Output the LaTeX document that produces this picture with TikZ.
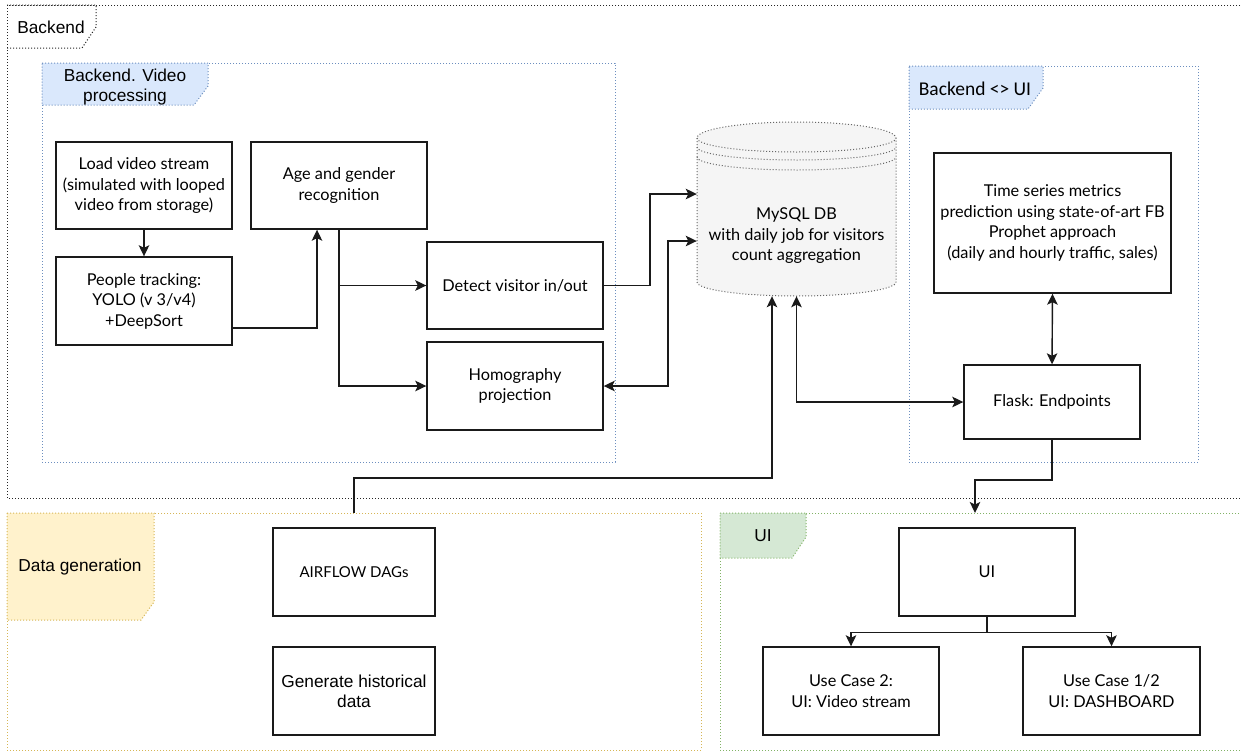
\documentclass[tikz,border=0pt]{standalone}
\usepackage{fontspec}
\setmainfont{Liberation Sans}
\newfontfamily\hum{Lato}
\newfontfamily\calfont{Carlito}
\usetikzlibrary{arrows.meta,calc}
\definecolor{blueS}{HTML}{6C8EBF}
\definecolor{blueF}{HTML}{DAE8FC}
\definecolor{yelS}{HTML}{D6B656}
\definecolor{yelF}{HTML}{FFF2CC}
\definecolor{grnS}{HTML}{82B366}
\definecolor{grnF}{HTML}{D5E8D4}
\definecolor{lineC}{HTML}{1A1A1A}
\definecolor{dbS}{HTML}{666666}
\definecolor{dbF}{HTML}{F5F5F5}
\begin{document}
\begin{tikzpicture}[x=1pt,y=-1pt,
  nbox/.style={draw=lineC, line width=1.4pt, fill=white, align=center, inner sep=2pt,
    font=\hum\fontsize{16.3}{20.5}\selectfont},
  hnbox/.style={nbox, font=\fontsize{17.3}{20}\selectfont},
  tip/.style={},
  arr/.style={draw=lineC, line width=1.4pt, -{Stealth[length=11pt,width=10.5pt,inset=2.5pt]}},
  darr/.style={draw=lineC, line width=1.4pt, {Stealth[length=11pt,width=10.5pt,inset=2.5pt]}-{Stealth[length=11pt,width=10.5pt,inset=2.5pt]}},
  cframe/.style={dotted, line width=1pt},
  lbl/.style={align=center, font=\fontsize{17.3}{20}\selectfont, inner sep=0pt},
]
\useasboundingbox (0,0) rectangle (1241,753);
\fill[white] (0,0) rectangle (1241,753);

% ---------- containers ----------
\draw[cframe, draw=black!85] (7,5) rectangle (1260,498);
\draw[cframe, draw=black!85] (7,5) -- (96,5) -- (96,27) -- (82,48) -- (7,48);
\node[lbl] (lblBackend) at (51,27) {Backend};

\draw[cframe, draw=blueS] (42,63) rectangle (615,462);
\filldraw[cframe, draw=blueS, fill=blueF] (42,63) -- (208,63) -- (208,86) -- (194,105) -- (42,105) -- cycle;
\node[lbl] (lblVideo) at (125,87) {Backend. Video\\processing};

\draw[cframe, draw=blueS] (909,66) rectangle (1198,462);
\filldraw[cframe, draw=blueS, fill=blueF] (909,66) -- (1043,66) -- (1043,88) -- (1028,109) -- (909,109) -- cycle;
\node[lbl, font=\calfont\fontsize{19.5}{22}\selectfont] (lblBUI) at (975,89) {Backend <> UI};

\draw[cframe, draw=yelS] (7,513) rectangle (701,750);
\filldraw[cframe, draw=yelS, fill=yelF] (7,513) -- (154,513) -- (154,602) -- (141,620) -- (7,620) -- cycle;
\node[lbl] (lblData) at (80,567) {Data generation};

\draw[cframe, draw=grnS] (720,513) rectangle (1260,750);
\filldraw[cframe, draw=grnS, fill=grnF] (720,513) -- (806,513) -- (806,537) -- (792,558) -- (720,558) -- cycle;
\node[lbl] (lblUI) at (763,536) {UI};

% ---------- database cylinder ----------
\filldraw[draw=dbS, fill=dbF, dotted, line width=1pt]
  (697,138) -- (697,282) arc[start angle=180,end angle=360,x radius=99.5pt,y radius=14pt]
  -- (896,138) arc[start angle=0,end angle=180,x radius=99.5pt,y radius=16pt] -- cycle;
\draw[draw=dbS, dotted, line width=1pt] (697,138) arc[start angle=180,end angle=360,x radius=99.5pt,y radius=14pt];
\draw[draw=dbS, dotted, line width=1pt] (697,147) arc[start angle=180,end angle=360,x radius=99.5pt,y radius=13pt];
\draw[draw=dbS, dotted, line width=1pt] (697,157) arc[start angle=180,end angle=360,x radius=99.5pt,y radius=13pt];
\node[minimum width=199pt, minimum height=174pt, inner sep=0pt] (db) at (796.5,209) {};
\node[align=center, font=\hum\fontsize{16.3}{20.5}\selectfont] (dbtext) at (796.5,236)
  {MySQL DB\\with daily job for visitors\\count aggregation};

% ---------- nodes ----------
\node[nbox, minimum width=176pt, minimum height=87pt] (load) at (144,185.5)
  {Load video stream\\(simulated with looped\\video from storage)};
\node[nbox, minimum width=176pt, minimum height=88pt] (track) at (144,301)
  {People tracking:\\YOLO (v 3/v4)\\+DeepSort};
\node[nbox, minimum width=176pt, minimum height=87pt] (age) at (339,185.5)
  {Age and gender\\recognition};
\node[nbox, minimum width=176pt, minimum height=87pt] (detect) at (515,285.5)
  {Detect visitor in/out};
\node[nbox, minimum width=176pt, minimum height=88pt] (homog) at (515,386)
  {Homography\\projection};
\node[nbox, minimum width=237pt, minimum height=140pt] (ts) at (1052.5,223)
  {Time series metrics\\prediction using state-of-art FB\\Prophet approach\\(daily and hourly traffic, sales)};
\node[nbox, minimum width=176pt, minimum height=74pt] (flask) at (1052,402)
  {Flask: Endpoints};
\node[nbox, minimum width=162pt, minimum height=88pt, font=\hum\fontsize{15}{20}\selectfont] (airflow) at (354,572)
  {AIRFLOW DAGs};
\node[hnbox, minimum width=162pt, minimum height=88pt] (gen) at (354,691)
  {Generate historical\\data};
\node[nbox, minimum width=176pt, minimum height=88pt] (ui) at (987,572) {UI};
\node[nbox, minimum width=176pt, minimum height=88pt] (uc2) at (851,691)
  {Use Case 2:\\UI: Video stream};
\node[nbox, minimum width=177pt, minimum height=88pt] (uc1) at (1111.5,691)
  {Use Case 1/2\\UI: DASHBOARD};

% ---------- connectors ----------
\draw[arr] (load) -- (track);
\draw[arr] (track.east |- 0,328) -| (317,0 |- age.south);
\draw[arr] (age.south) |- (detect.west);
\draw[arr] (age.south) |- (homog.west);
\draw[arr] (detect.east) -| (650,194) -- (db.west |- 0,194);
\draw[darr] (homog.east) -| (668,241) -- (db.west |- 0,241);
\draw[darr] (db.south) |- (flask.west);
\coordinate (afTop) at (airflow.north |- 0,513);
\draw[arr] (afTop) |- (772,478) -- (772,0 |- db.south);
\draw[darr] (ts.south) -- (flask.north);
\coordinate (uiIn) at (975,513);
\draw[arr] (flask.south) |- (975,480) -- (uiIn);
\draw[arr] (ui.south) -- ++(0,16) -| (uc2.north);
\draw[arr] (ui.south) -- ++(0,16) -| (uc1.north);
\end{tikzpicture}
\end{document}
